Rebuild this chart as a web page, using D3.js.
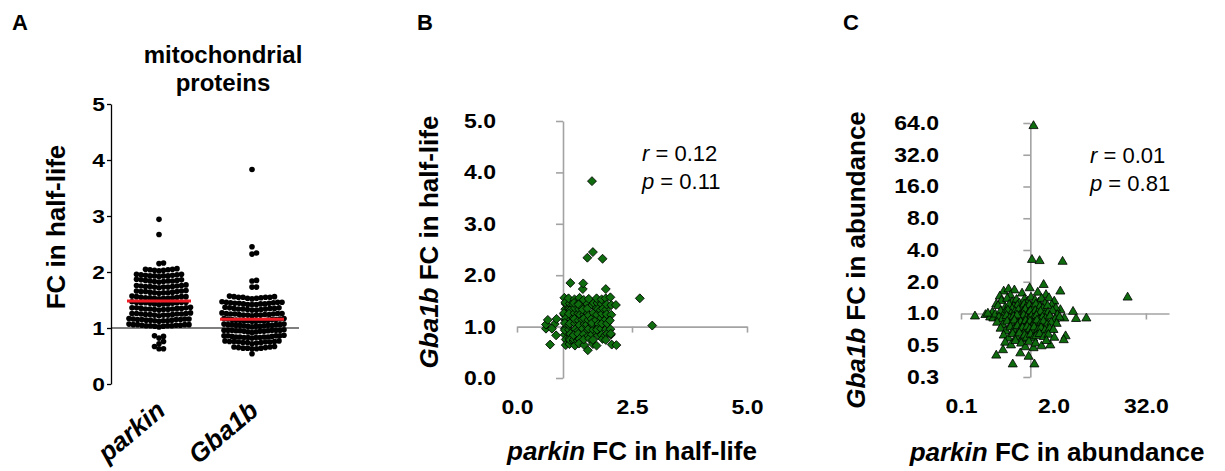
<!DOCTYPE html>
<html>
<head>
<meta charset="utf-8">
<script src="https://cdn.jsdelivr.net/npm/d3@7"></script>
<style>
  body { margin: 0; background: #fff; }
  svg { font-family: Arial, "Liberation Sans", sans-serif; }
</style>
</head>
<body>
<svg id="chart" width="1225" height="471"></svg>
<script>
// ---- data ----
const categoriesA = ['parkin', 'Gba1b']

// [parkin FC, Gba1b FC] in half-life, mitochondrial proteins
const halfLifeFC = [
  [1.03, 1.56], [1.04, 0.84], [1.03, 1.23], [1.05, 1.13], [1.04, 0.96], [1.05, 1.34], [1.06, 0.75], [1.06, 1.44],
  [1.07, 1.05], [1.02, 1.26], [1.04, 0.93], [1.05, 1.47], [1.06, 1.16], [1.04, 1.07], [1.06, 0.64],
  [1.13, 0.94], [1.14, 1.35], [1.13, 1.03], [1.14, 0.77], [1.15, 1.24], [1.16, 1.85], [1.15, 1.45], [1.16, 0.86],
  [1.17, 1.14], [1.12, 1.55], [1.14, 0.66], [1.15, 1.06], [1.16, 1.32], [1.13, 1.25], [1.15, 0.74],
  [1.23, 0.72], [1.23, 1.17], [1.22, 1.43], [1.24, 0.75], [1.25, 1.26], [1.24, 0.84], [1.25, 1.53], [1.26, 1.06],
  [1.27, 0.95], [1.26, 1.36], [1.23, 0.83], [1.25, 1.15], [1.26, 0.63], [1.24, 1.46],
  [1.32, 0.73], [1.33, 1.25], [1.34, 1.45], [1.33, 0.92], [1.34, 1.12], [1.35, 1.34], [1.35, 0.76], [1.36, 1.56],
  [1.36, 1.03], [1.37, 1.23], [1.33, 0.86], [1.34, 1.43], [1.36, 0.76], [1.35, 0.67],
  [1.43, 1.73], [1.44, 1.84], [1.42, 1.14], [1.43, 0.96], [1.44, 1.37], [1.45, 0.85], [1.45, 1.52], [1.46, 1.24],
  [1.46, 0.64], [1.47, 1.05], [1.43, 1.33], [1.45, 0.75], [1.46, 1.16],
  [1.53, 2.34], [1.52, 1.04], [1.53, 1.44], [1.54, 0.93], [1.54, 1.26], [1.55, 0.82], [1.55, 1.13], [1.56, 1.54],
  [1.56, 0.96], [1.57, 0.77], [1.53, 1.35], [1.54, 0.54], [1.56, 1.22],
  [1.63, 3.83], [1.65, 2.45], [1.62, 1.15], [1.63, 0.85], [1.64, 1.42], [1.64, 1.03], [1.65, 0.66], [1.66, 1.27],
  [1.66, 0.94], [1.67, 1.46], [1.63, 1.07], [1.65, 0.74],
  [1.73, 0.63], [1.72, 1.13], [1.73, 1.36], [1.74, 0.87], [1.74, 1.23], [1.75, 1.46], [1.75, 0.97], [1.76, 0.83],
  [1.76, 1.34], [1.77, 1.05], [1.73, 1.55], [1.74, 0.94],
  [1.86, 2.32], [1.82, 1.32], [1.83, 0.96], [1.83, 1.17], [1.84, 1.44], [1.84, 0.84], [1.85, 1.06], [1.85, 1.25],
  [1.86, 0.76], [1.87, 1.35], [1.84, 1.53],
  [1.93, 1.73], [1.93, 1.55], [1.92, 0.83], [1.93, 1.14], [1.94, 1.33], [1.94, 0.95], [1.95, 1.24], [1.95, 1.43],
  [1.96, 0.86], [1.96, 1.06], [1.93, 0.74],
  [2.03, 0.95], [2.04, 0.84], [2.05, 1.23], [2.02, 1.12], [2.03, 1.57], [2.04, 0.86], [2.05, 1.42], [2.06, 0.65],
  [2.15, 1.42], [2.16, 0.64], [2.67, 1.55], [2.94, 1.02],
  [0.63, 0.96], [0.63, 1.04], [0.72, 0.65], [0.67, 1.13], [0.82, 1.05], [0.76, 0.96], [0.85, 0.83], [0.86, 1.15]
]

// [parkin FC, Gba1b FC] in abundance
const abundanceFC = [
  [1.10, 60], [1.05, 3.23], [1.32, 3.15], [2.63, 3.10], [18.5, 1.42], [0.19, 0.94], [0.26, 0.97], [0.30, 0.92],
  [0.33, 0.90], [5.37, 0.90], [3.94, 0.89], [3.60, 1.04], [2.77, 0.90], [2.46, 1.08], [2.88, 0.61], [2.72, 0.56],
  [1.82, 0.50], [0.59, 0.33], [0.36, 0.40], [0.44, 0.45], [1.13, 0.33], [0.95, 0.39], [0.74, 0.42], [1.10, 0.47],
  [1.49, 1.87], [2.46, 1.62], [0.98, 1.74],
  [0.45, 1.62], [0.52, 1.70], [0.62, 1.66], [0.40, 1.45], [0.78, 1.55], [1.25, 1.58], [1.60, 1.50], [1.75, 1.40],
  [2.05, 1.30], [0.55, 1.48],
  [0.42, 1.32], [0.50, 1.38], [0.58, 1.28], [0.66, 1.35], [0.72, 1.25], [0.84, 1.36], [0.92, 1.30], [1.02, 1.42],
  [1.15, 1.33], [1.28, 1.27], [1.40, 1.38], [1.55, 1.24], [1.90, 1.20], [0.36, 1.22],
  [0.38, 1.18], [0.47, 1.14], [0.53, 1.21], [0.61, 1.16], [0.68, 1.19], [0.76, 1.12], [0.83, 1.22], [0.88, 1.15],
  [0.97, 1.20], [1.06, 1.13], [1.18, 1.22], [1.33, 1.16], [1.46, 1.11], [1.68, 1.18], [2.15, 1.12], [0.58, 1.10],
  [0.32, 1.02], [0.35, 0.98], [0.41, 1.05], [0.46, 1.00], [0.51, 1.07], [0.56, 0.99], [0.63, 1.04], [0.70, 1.08],
  [0.74, 0.97], [0.81, 1.03], [0.86, 1.09], [0.94, 1.00], [1.00, 1.05], [1.08, 0.98], [1.16, 1.06], [1.24, 1.01],
  [1.36, 1.04], [1.52, 0.97], [1.70, 1.02], [1.95, 1.06], [2.25, 0.97], [0.28, 1.00],
  [0.39, 0.92], [0.43, 0.88], [0.49, 0.95], [0.54, 0.90], [0.60, 0.93], [0.65, 0.87], [0.71, 0.94], [0.77, 0.89],
  [0.82, 0.96], [0.89, 0.91], [0.95, 0.88], [1.03, 0.94], [1.10, 0.90], [1.20, 0.95], [1.30, 0.87], [1.44, 0.92],
  [1.58, 0.89], [1.80, 0.94], [2.10, 0.88], [2.40, 0.92], [0.67, 0.96],
  [0.37, 0.82], [0.44, 0.78], [0.50, 0.84], [0.57, 0.80], [0.62, 0.86], [0.69, 0.79], [0.75, 0.83], [0.80, 0.77],
  [0.87, 0.85], [0.93, 0.80], [0.99, 0.84], [1.07, 0.78], [1.14, 0.82], [1.22, 0.86], [1.35, 0.80], [1.48, 0.84],
  [1.65, 0.78], [1.88, 0.82], [2.20, 0.80],
  [0.41, 0.72], [0.48, 0.68], [0.55, 0.74], [0.61, 0.70], [0.68, 0.76], [0.73, 0.69], [0.79, 0.73], [0.85, 0.67],
  [0.91, 0.75], [0.98, 0.71], [1.05, 0.68], [1.12, 0.74], [1.26, 0.70], [1.38, 0.73], [1.55, 0.69], [1.78, 0.72],
  [2.00, 0.70],
  [0.45, 0.62], [0.52, 0.58], [0.59, 0.64], [0.66, 0.60], [0.72, 0.65], [0.78, 0.57], [0.84, 0.62], [0.90, 0.59],
  [1.01, 0.63], [1.09, 0.58], [1.19, 0.61], [1.32, 0.64], [1.50, 0.60], [1.72, 0.63], [2.05, 0.59],
  [0.47, 0.53], [0.56, 0.50], [0.64, 0.55], [0.76, 0.52], [0.86, 0.48], [0.96, 0.54], [1.17, 0.52], [1.40, 0.49],
  [1.62, 0.55]
]

const ticksA = [0, 1, 2, 3, 4, 5]
const ticksBy = [0, 1, 2, 3, 4, 5]
const ticksBx = [0, 2.5, 5]
const ticksCy = [0.25, 0.5, 1, 2, 4, 8, 16, 32, 64]
const labelsCy = ['0.3', '0.5', '1.0', '2.0', '4.0', '8.0', '16.0', '32.0', '64.0']
const ticksCx = [0.125, 2, 32]
const labelsCx = ['0.1', '2.0', '32.0']
const statsB = ['0.12', '0.11']
const statsC = ['0.01', '0.81']

// ---- helpers ----
const svg = d3.select('#chart')
const green = '#0e6b0e'
const grey = '#a3a3a3'

// tick label glyphs in the figure are wider than Arial
function stretch(g, k) {
  g.selectAll('text').each(function() {
    const t = d3.select(this)
    const x = +t.attr('x') || 0
    t.attr('x', x / k).attr('transform', `scale(${k},1)`)
  })
}

function tickText(g, size) {
  g.selectAll('text')
    .attr('fill', '#000')
    .style('font-size', size + 'px')
    .style('font-weight', 'bold')
    .style('font-family', 'Arial, "Liberation Sans", sans-serif')
}

function greyAxis(g) {
  g.selectAll('path, line').attr('stroke', grey).attr('stroke-width', 1.6)
  g.selectAll('text').remove()
}

function italicLead(sel, lead, rest) {
  sel.append('tspan').style('font-style', 'italic').text(lead)
  sel.append('tspan').text(rest)
}

function panelLetter(x, t) {
  svg.append('text').attr('x', x).attr('y', 30)
    .style('font-size', '22px').style('font-weight', 'bold').text(t)
}

// ---- panel A ----
panelLetter(12, 'A')
const yA = d3.scaleLinear().domain([0, 5]).range([384, 104])
const xA = d3.scalePoint().domain(categoriesA).range([159, 252])

const axA = svg.append('g').attr('transform', 'translate(111,0)')
  .call(d3.axisLeft(yA).tickValues(ticksA).tickSize(4).tickSizeOuter(0).tickPadding(2).tickFormat(d3.format('d')))
axA.selectAll('path, line').attr('stroke', '#000').attr('stroke-width', 1.3)
tickText(axA, 19)
stretch(axA, 1.2)

svg.append('line')
  .attr('x1', 111).attr('x2', 299)
  .attr('y1', yA(1)).attr('y2', yA(1))
  .attr('stroke', '#000').attr('stroke-width', 1.2)

categoriesA.forEach((cat, ci) => {
  const vals = halfLifeFC.map(d => d[ci])
  // scatter-dot layout: rows of 0.1, lowest value in the middle
  const bins = d3.group(vals, v => Math.floor(v * 10 + 1e-6))
  const pts = []
  bins.forEach(row => {
    const step = Math.min(4.5, 60 / Math.max(1, row.length - 1))
    row.sort(d3.ascending).forEach((v, i) => {
      const k = Math.ceil(i / 2) * (i % 2 ? 1 : -1)
      pts.push({ v, dx: k * step })
    })
  })
  svg.append('g').selectAll('circle').data(pts).join('circle')
    .attr('cx', d => xA(cat) + d.dx)
    .attr('cy', d => yA(d.v))
    .attr('r', 2.8)
    .attr('fill', '#000')

  const m = d3.mean(vals)
  svg.append('line')
    .attr('x1', xA(cat) - 32).attr('x2', xA(cat) + 32)
    .attr('y1', yA(m)).attr('y2', yA(m))
    .attr('stroke', '#ee1c24').attr('stroke-width', 3)

  svg.append('text')
    .attr('transform', `translate(${xA(cat) + 8},413) rotate(-40)`)
    .attr('text-anchor', 'end')
    .style('font-size', '26px').style('font-weight', 'bold').style('font-style', 'italic')
    .text(cat)
})

svg.append('text').attr('x', 223).attr('y', 63).attr('text-anchor', 'middle')
  .style('font-size', '24px').style('font-weight', 'bold').text('mitochondrial')
svg.append('text').attr('x', 223).attr('y', 91).attr('text-anchor', 'middle')
  .style('font-size', '24px').style('font-weight', 'bold').text('proteins')

svg.append('text').attr('transform', 'translate(65,227) rotate(-90)').attr('text-anchor', 'middle')
  .style('font-size', '26px').style('font-weight', 'bold').text('FC in half-life')

// ---- panel B ----
panelLetter(417, 'B')
const xB = d3.scaleLinear().domain([0, 5]).range([517, 747])
const yB = d3.scaleLinear().domain([0, 5]).range([378, 121])

svg.append('g').attr('transform', `translate(${xB(1)},0)`)
  .call(d3.axisLeft(yB).tickValues(ticksBy).tickSize(7).tickSizeOuter(0))
  .call(greyAxis)
svg.append('g').attr('transform', `translate(0,${yB(1)})`)
  .call(d3.axisBottom(xB).tickValues(ticksBx).tickSize(6).tickSizeOuter(0))
  .call(greyAxis)

const lyB = svg.append('g').attr('transform', `translate(${xB(0)},0)`)
  .call(d3.axisLeft(yB).tickValues(ticksBy).tickSize(0).tickPadding(21).tickFormat(d3.format('.1f')))
lyB.select('.domain').remove()
tickText(lyB, 20)
stretch(lyB, 1.15)

const lxB = svg.append('g').attr('transform', `translate(0,${yB(0)})`)
  .call(d3.axisBottom(xB).tickValues(ticksBx).tickSize(0).tickPadding(22).tickFormat(d3.format('.1f')))
lxB.select('.domain').remove()
tickText(lxB, 20)
stretch(lxB, 1.15)

svg.append('g').selectAll('path').data(halfLifeFC).join('path')
  .attr('d', d3.symbol(d3.symbolSquare, 40))
  .attr('transform', d => `translate(${xB(d[0])},${yB(d[1])}) rotate(45)`)
  .attr('fill', green).attr('stroke', '#000').attr('stroke-width', 0.8)

italicLead(svg.append('text').attr('x', 642).attr('y', 161).style('font-size', '22px'), 'r', ' = ' + statsB[0])
italicLead(svg.append('text').attr('x', 642).attr('y', 189).style('font-size', '22px'), 'p', ' = ' + statsB[1])

italicLead(svg.append('text').attr('x', 632).attr('y', 460).attr('text-anchor', 'middle')
  .style('font-size', '26px').style('font-weight', 'bold'), 'parkin', ' FC in half-life')
italicLead(svg.append('text').attr('transform', 'translate(438,242) rotate(-90)').attr('text-anchor', 'middle')
  .style('font-size', '26px').style('font-weight', 'bold'), 'Gba1b', ' FC in half-life')

// ---- panel C ----
panelLetter(843, 'C')
const xC = d3.scaleLog().base(2).domain([0.125, 64]).range([961, 1169])
const yC = d3.scaleLog().base(2).domain([0.25, 64]).range([377, 123])

svg.append('g').attr('transform', `translate(${xC(1)},0)`)
  .call(d3.axisLeft(yC).tickValues(ticksCy).tickSize(7).tickSizeOuter(0))
  .call(greyAxis)
svg.append('g').attr('transform', `translate(0,${yC(1)})`)
  .call(d3.axisBottom(xC).tickValues(ticksCx).tickSize(6).tickSizeOuter(0))
  .call(greyAxis)

const lyC = svg.append('g').attr('transform', `translate(${xC(0.125)},0)`)
  .call(d3.axisLeft(yC).tickValues(ticksCy).tickSize(0).tickPadding(22).tickFormat((d, i) => labelsCy[i]))
lyC.select('.domain').remove()
tickText(lyC, 20)
stretch(lyC, 1.15)

const lxC = svg.append('g').attr('transform', `translate(0,${yC(0.25)})`)
  .call(d3.axisBottom(xC).tickValues(ticksCx).tickSize(0).tickPadding(22).tickFormat((d, i) => labelsCx[i]))
lxC.select('.domain').remove()
tickText(lxC, 20)
stretch(lxC, 1.15)

svg.append('g').selectAll('path').data(abundanceFC).join('path')
  .attr('d', d3.symbol(d3.symbolTriangle, 36))
  .attr('transform', d => `translate(${xC(d[0])},${yC(d[1])})`)
  .attr('fill', green).attr('stroke', '#000').attr('stroke-width', 0.8)

italicLead(svg.append('text').attr('x', 1090).attr('y', 163).style('font-size', '22px'), 'r', ' = ' + statsC[0])
italicLead(svg.append('text').attr('x', 1090).attr('y', 191).style('font-size', '22px'), 'p', ' = ' + statsC[1])

italicLead(svg.append('text').attr('x', 1057).attr('y', 461).attr('text-anchor', 'middle')
  .style('font-size', '26px').style('font-weight', 'bold'), 'parkin', ' FC in abundance')
italicLead(svg.append('text').attr('transform', 'translate(865,260) rotate(-90)').attr('text-anchor', 'middle')
  .style('font-size', '26px').style('font-weight', 'bold'), 'Gba1b', ' FC in abundance')
</script>
</body>
</html>
